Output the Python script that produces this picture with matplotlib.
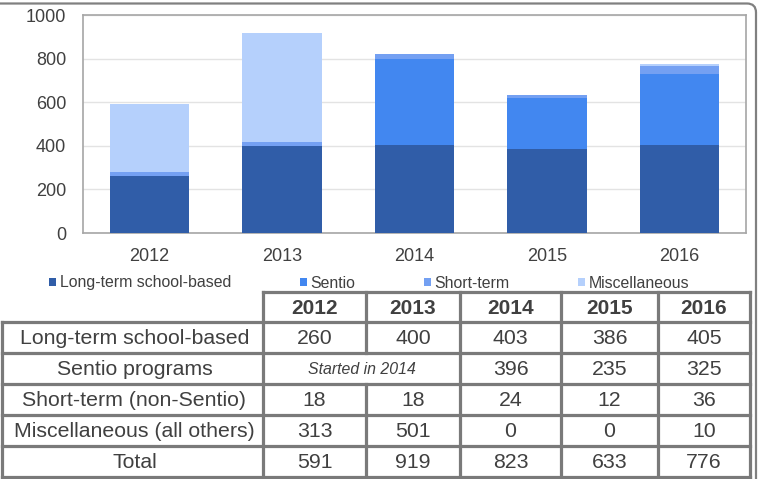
import matplotlib
matplotlib.use("Agg")
import matplotlib.pyplot as plt
from matplotlib.patches import Patch, FancyBboxPatch
import numpy as np

plt.rcParams['font.family'] = ['Liberation Sans', 'DejaVu Sans']

# ---- data ----
years = ['2012', '2013', '2014', '2015', '2016']
long_term = [260, 400, 403, 386, 405]
sentio = [0, 0, 396, 235, 325]
short_term = [18, 18, 24, 12, 36]
misc = [313, 501, 0, 0, 10]
total = [591, 919, 823, 633, 776]
series_labels = ['Long-term school-based', 'Sentio', 'Short-term', 'Miscellaneous']
row_labels = ['Long-term school-based', 'Sentio programs', 'Short-term (non-Sentio)',
              'Miscellaneous (all others)', 'Total']
sentio_note = 'Started in 2014'
y_ticks = [0, 200, 400, 600, 800, 1000]

colors = ['#305DA8', '#4287F0', '#74A0F2', '#B5D0FC']
txt = '#404040'
W, H = 763, 479

fig = plt.figure(figsize=(W / 100, H / 100), dpi=100)

# overlay axes in pixel coordinates (frame + table)
tax = fig.add_axes([0, 0, 1, 1])
tax.set_xlim(0, W)
tax.set_ylim(H, 0)
tax.axis('off')

frame = FancyBboxPatch((-10, 3.5), 766, 500, boxstyle='round,pad=0,rounding_size=9',
                       fc='white', ec='#808080', lw=1.6, zorder=0)
tax.add_patch(frame)

# ---- chart ----
ax = fig.add_axes([83 / W, 1 - 233 / H, (746 - 83) / W, (233 - 15) / H])
x = np.arange(len(years))
bottom = np.zeros(len(years))
for vals, c, lab in zip([long_term, sentio, short_term, misc], colors, series_labels):
    ax.bar(x, vals, 0.6, bottom=bottom, color=c, label=lab, zorder=3)
    bottom += np.array(vals)

ax.set_xlim(-0.5, len(years) - 0.5)
ax.set_ylim(0, 1000)
ax.set_yticks(y_ticks)
ax.set_yticklabels([str(v) for v in y_ticks])
ax.set_xticks(x)
ax.set_xticklabels(years)
ax.tick_params(axis='both', length=0, labelsize=13, colors=txt)
ax.tick_params(axis='y', pad=12)
ax.tick_params(axis='x', pad=11)
ax.grid(axis='y', color='#e3e3e3', lw=1, zorder=0)
for s in ax.spines.values():
    s.set_color('#a6a6a6')
    s.set_linewidth(1.2)

handles = [Patch(facecolor=c, edgecolor='none') for c in colors]
fig.legend(handles, series_labels, loc='center left', ncol=4,
           bbox_to_anchor=(49 / W, 1 - 283 / H), frameon=False,
           fontsize=11.4, labelcolor=txt, handlelength=0.45, handleheight=0.45,
           handletextpad=0.25, columnspacing=4.3, borderpad=0, borderaxespad=0)

# ---- table ----
cols = [2, 263, 366, 460, 561, 658, 750]
head_top = 292
rows = [322, 353, 384, 415, 446, 477]
lc = '#7a7a7a'
lw = 2.3
kw = dict(color=lc, lw=lw, solid_capstyle='projecting', zorder=5)

tax.plot([cols[1], cols[-1]], [head_top, head_top], **kw)
for y in rows:
    tax.plot([cols[0], cols[-1]], [y, y], **kw)
tax.plot([cols[0], cols[0]], [rows[0], rows[-1]], **kw)
tax.plot([cols[1], cols[1]], [head_top, rows[-1]], **kw)
tax.plot([cols[2], cols[2]], [head_top, rows[1]], **kw)
tax.plot([cols[2], cols[2]], [rows[2], rows[-1]], **kw)
for cx in cols[3:]:
    tax.plot([cx, cx], [head_top, rows[-1]], **kw)

centers_x = [(cols[i] + cols[i + 1]) / 2 for i in range(len(cols) - 1)]
for j, yr in enumerate(years):
    tax.text(centers_x[j + 1], (head_top + rows[0]) / 2 + 1, yr, ha='center', va='center',
             fontsize=15, fontweight='bold', color=txt)

table_vals = [long_term, sentio, short_term, misc, total]
for i, (lab, vals) in enumerate(zip(row_labels, table_vals)):
    cy = (rows[i] + rows[i + 1]) / 2 + 1
    tax.text(centers_x[0] + 2, cy, lab, ha='center', va='center', fontsize=15.3, color=txt)
    for j, v in enumerate(vals):
        if lab.startswith('Sentio') and j < 2:
            continue
        tax.text(centers_x[j + 1], cy, str(v), ha='center', va='center', fontsize=15.3, color=txt)
    if lab.startswith('Sentio'):
        tax.text((cols[1] + cols[3]) / 2, cy, sentio_note, ha='center', va='center',
                 fontsize=11.4, style='italic', color=txt)

fig.savefig('out.png', dpi=100)
